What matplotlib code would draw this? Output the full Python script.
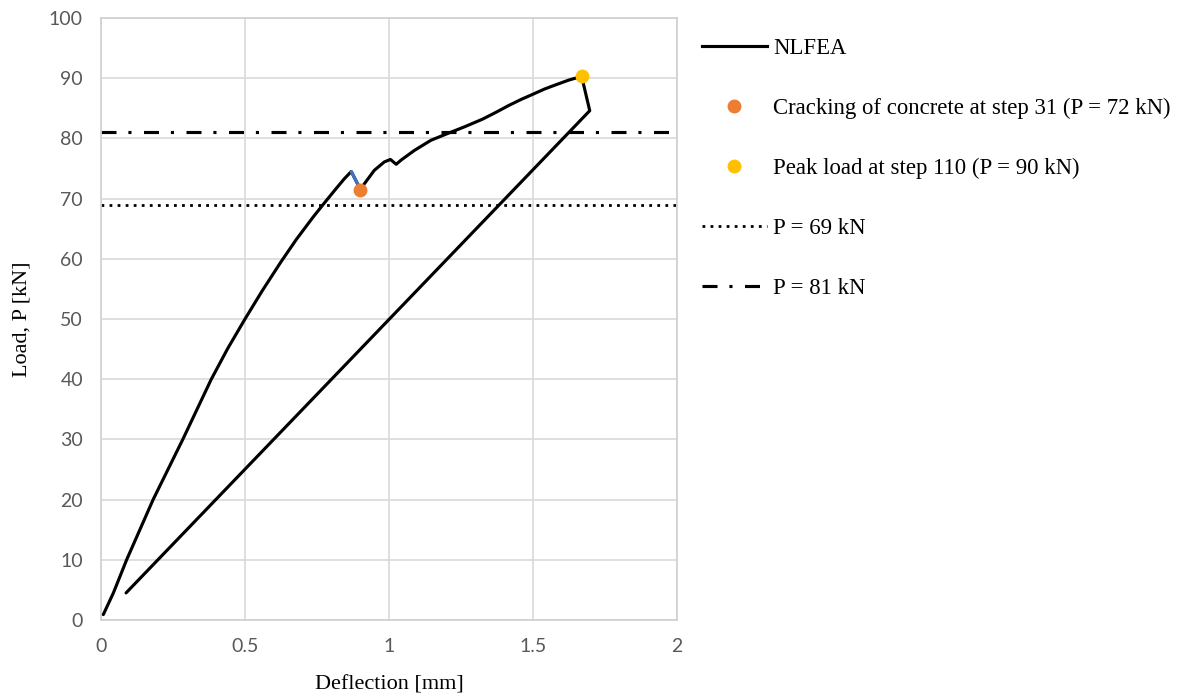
import matplotlib
matplotlib.use("Agg")
import matplotlib.pyplot as plt
from matplotlib.lines import Line2D

# Load-deflection response from the nonlinear FE analysis
deflection = [0.008, 0.043, 0.089, 0.181, 0.284, 0.383, 0.440, 0.500, 0.560,
              0.625, 0.678, 0.736, 0.776, 0.817, 0.845, 0.869, 0.901, 0.915,
              0.949, 0.984, 1.005, 1.025, 1.042, 1.088, 1.146, 1.203, 1.261,
              1.325, 1.370, 1.417, 1.460, 1.498, 1.540, 1.579, 1.625, 1.669,
              1.697, 0.087]
load = [0.9, 4.5, 10.0, 20.0, 30.0, 40.0, 45.1, 50.0, 54.7,
        59.5, 63.2, 66.9, 69.3, 71.7, 73.3, 74.5, 71.5, 72.5,
        74.7, 76.1, 76.5, 75.7, 76.4, 78.0, 79.7, 80.8, 81.9,
        83.2, 84.3, 85.5, 86.5, 87.3, 88.2, 88.9, 89.7, 90.3,
        84.6, 4.5]

# Events along the analysis
crack_step, crack_defl, crack_load = 31, 0.901, 71.5
peak_step, peak_defl, peak_load = 110, 1.669, 90.3

# Reference load levels
ref_loads = [69, 81]

x_ticks = [0, 0.5, 1, 1.5, 2]
y_ticks = list(range(0, 101, 10))

serif = "Liberation Serif"
sans = "Lato"
tick_color = "#595959"
grid_color = "#d9d9d9"

dotted = (0, (1.0, 1.9))
dash_dot = (0, (4.8, 3.8, 1.0, 4.0))

fig = plt.figure(figsize=(11.81, 6.99), dpi=100)
ax = fig.add_axes([101 / 1181, 1 - 620 / 699, 576 / 1181, 602 / 699])

ax.set_xlim(x_ticks[0], x_ticks[-1])
ax.set_ylim(y_ticks[0], y_ticks[-1])
ax.set_xticks(x_ticks)
ax.set_yticks(y_ticks)
ax.set_xticklabels([f"{t:g}" for t in x_ticks])
ax.set_yticklabels([f"{t:g}" for t in y_ticks])
ax.grid(True, color=grid_color, linewidth=1.2)
ax.set_axisbelow(True)
for side in ax.spines.values():
    side.set_color("#d0d0d0")
    side.set_linewidth(1.2)
ax.tick_params(length=0, labelsize=14, labelcolor=tick_color, pad=13)
for lbl in ax.get_xticklabels() + ax.get_yticklabels():
    lbl.set_fontfamily(sans)

# Reference levels
ax.axhline(ref_loads[0], color="black", linewidth=2.0,
           linestyle=dotted, dash_capstyle="butt", zorder=2)
ax.axhline(ref_loads[1], color="black", linewidth=2.25,
           linestyle=dash_dot, dash_capstyle="butt", zorder=2)

# Main curve
ax.plot(deflection, load, color="black", linewidth=2.25, zorder=3,
        solid_joinstyle="round", solid_capstyle="round")
i_crack = deflection.index(crack_defl)
ax.plot(deflection[i_crack - 1:i_crack + 1], load[i_crack - 1:i_crack + 1],
        color="#4472c4", linewidth=2.25, zorder=4, solid_capstyle="round")

ax.plot([crack_defl], [crack_load], "o", color="#ed7d31", markersize=10,
        markeredgewidth=0, zorder=5)
ax.plot([peak_defl], [peak_load], "o", color="#ffc000", markersize=10,
        markeredgewidth=0, zorder=5)

ax.set_xlabel("Deflection [mm]", fontfamily=serif, fontsize=16)
ax.set_ylabel("Load, P [kN]", fontfamily=serif, fontsize=16)
ax.xaxis.set_label_coords(0.5, (620 - 685) / 602)
ax.yaxis.set_label_coords((22 - 101) / 576, 0.5)
ax.xaxis.label.set_va("center")
ax.yaxis.label.set_va("center")

handles = [
    Line2D([], [], color="black", linewidth=2.25),
    Line2D([], [], linestyle="none", marker="o", color="#ed7d31",
           markersize=10, markeredgewidth=0),
    Line2D([], [], linestyle="none", marker="o", color="#ffc000",
           markersize=10, markeredgewidth=0),
    Line2D([], [], color="black", linewidth=2.0, linestyle=dotted),
    Line2D([], [], color="black", linewidth=2.25, linestyle=dash_dot),
]
labels = [
    "NLFEA",
    f"Cracking of concrete at step {crack_step} (P = {round(crack_load)} kN)",
    f"Peak load at step {peak_step} (P = {round(peak_load)} kN)",
    f"P = {ref_loads[0]} kN",
    f"P = {ref_loads[1]} kN",
]
fig.legend(handles, labels, loc="upper left",
           bbox_to_anchor=(702 / 1181, 1 - 37.7 / 699),
           frameon=False, borderpad=0, borderaxespad=0,
           handlelength=2.85, handletextpad=0.27, labelspacing=1.71,
           prop={"family": serif, "size": 16.4})

fig.savefig("out.png", dpi=100)
